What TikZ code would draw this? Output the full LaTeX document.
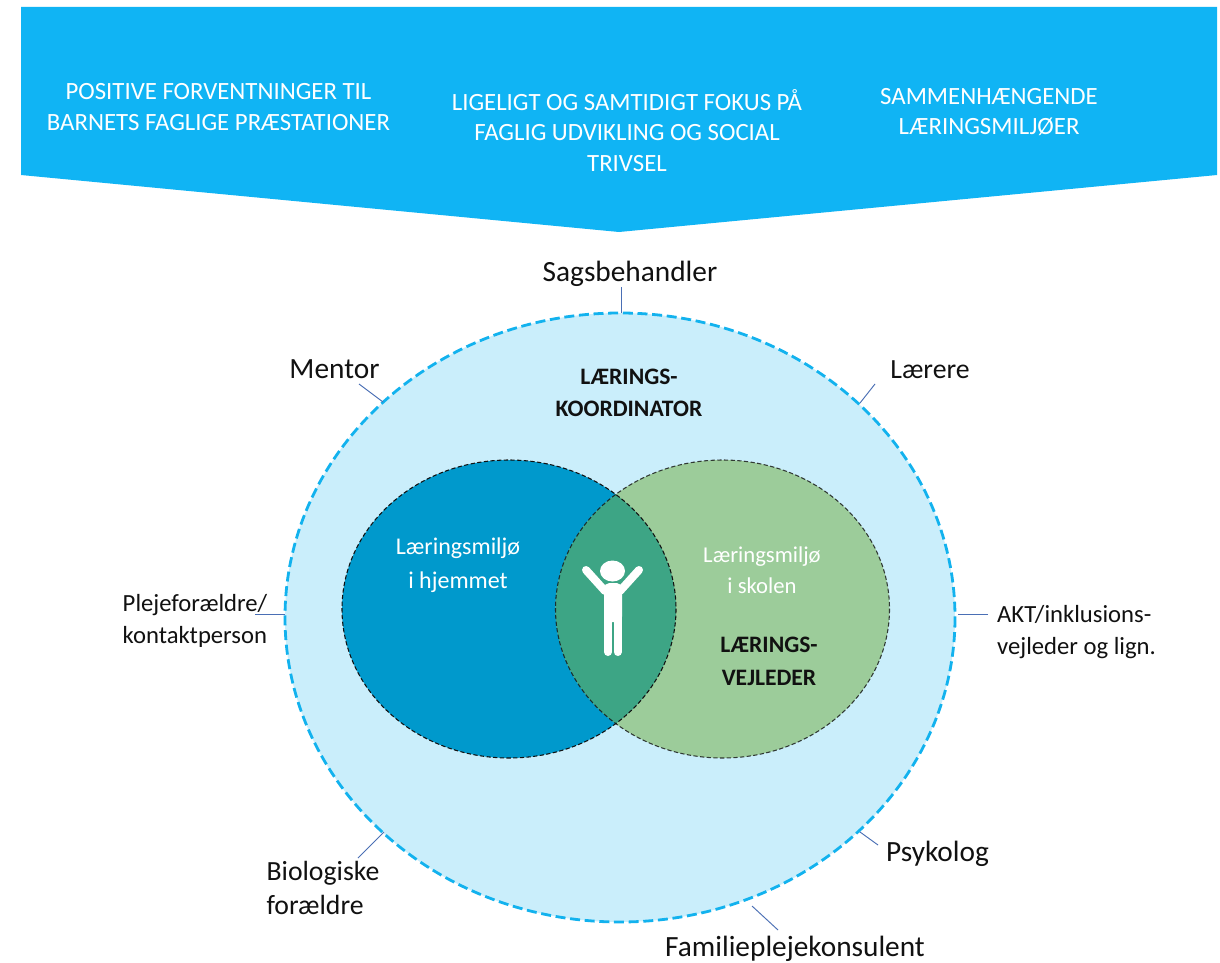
\documentclass[tikz,border=0pt]{standalone}
\usepackage{fontspec}
\setmainfont{Carlito}
\usetikzlibrary{calc}
\definecolor{banner}{HTML}{10B4F4}
\definecolor{outerc}{HTML}{CAEEFB}
\definecolor{homec}{HTML}{0099CC}
\definecolor{schoolc}{HTML}{9CCC9A}
\definecolor{overlapc}{HTML}{3DA585}
\definecolor{dashc}{HTML}{12B2EE}
\definecolor{leadc}{HTML}{4A6FB5}
\definecolor{ink}{HTML}{111111}
\tikzset{
  x=0.75pt,y=-0.75pt,
  bannertext/.style={text=white,align=center,font=\fontsize{18.6}{23}\selectfont,inner sep=0pt},
  role/.style={text=ink,align=left,font=\fontsize{22}{25}\selectfont,inner sep=0pt},
  rolesmall/.style={text=ink,align=left,font=\fontsize{20.8}{25}\selectfont,inner sep=0pt},
  smallrole/.style={text=ink,align=left,font=\fontsize{18.5}{24}\selectfont,inner sep=0pt},
  envtext/.style={text=white,align=center,font=\fontsize{18}{25.5}\selectfont,inner sep=0pt},
  envtextb/.style={text=white,align=center,font=\fontsize{17}{23.5}\selectfont,inner sep=0pt},
  boldtext/.style={text=ink,align=center,font=\fontsize{17.7}{24.5}\selectfont\bfseries,inner sep=0pt},
  lead/.style={draw=leadc,line width=0.7pt},
  innerdash/.style={draw=ink,line width=0.8pt,dash pattern=on 3.2pt off 1.8pt},
  personarm/.style={white,line cap=round,line width=6pt},
  personleg/.style={white,line cap=round,line width=6pt},
}
\begin{document}
\begin{tikzpicture}
\useasboundingbox (0,0) rectangle (1220,963);
\fill[white] (0,0) rectangle (1220,963);
% banner
\fill[banner] (21,7) -- (1217,7) -- (1217,175) -- (619,232) -- (21,175) -- cycle;
\node[bannertext] (b1) at (218.5,107) {POSITIVE FORVENTNINGER TIL\\BARNETS FAGLIGE PRÆSTATIONER};
\node[bannertext] (b2) at (627,130.5) {LIGELIGT OG SAMTIDIGT FOKUS PÅ\\FAGLIG UDVIKLING OG SOCIAL\\TRIVSEL};
\node[bannertext] (b3) at (989,112) {SAMMENHÆNGENDE\\LÆRINGSMILJØER};
% circles
\fill[outerc] (620,617.5) ellipse [x radius=335,y radius=304.5];
\draw[dashc,line width=2.1pt,dash pattern=on 7.5pt off 3.5pt] (620,617.5) ellipse [x radius=335,y radius=304.5];
\fill[homec] (509,609) ellipse [x radius=167,y radius=149];
\fill[schoolc] (722.5,609) ellipse [x radius=167,y radius=149];
\begin{scope}
\clip (509,609) ellipse [x radius=167,y radius=149];
\fill[overlapc] (722.5,609) ellipse [x radius=167,y radius=149];
\end{scope}
\draw[innerdash] (509,609) ellipse [x radius=167,y radius=149];
\draw[innerdash,opacity=.8] (722.5,609) ellipse [x radius=167,y radius=149];
% person
\fill[white] (612.5,571) ellipse [x radius=12.5,y radius=10.5];
\draw[personarm] (586,570) -- (605,591);
\draw[personarm] (639,570) -- (620,591);
\fill[white,rounded corners=4pt] (604,583) rectangle (622,622);
\draw[personleg] (608,612) -- (608,652);
\draw[personleg] (617.7,612) -- (617.7,652);
% texts in circles
\node[boldtext] (koord) at (629,393) {LÆRINGS-\\KOORDINATOR};
\node[envtext] (home) at (458,565.5) {Læringsmiljø\\i hjemmet};
\node[envtextb] (school) at (762,570.5) {Læringsmiljø\\i skolen};
\node[boldtext] (vej) at (769,661.5) {LÆRINGS-\\VEJLEDER};
% roles
\node[role] (sag) at (630,274) {Sagsbehandler};
\node[role] (men) at (334.5,369) {Mentor};
\node[rolesmall] (lae) at (930,370) {Lærere};
\node[smallrole] (ple) at (195,621) {Plejeforældre/\\kontaktperson};
\node[smallrole] (akt) at (1076.5,632) {AKT/inklusions-\\vejleder og lign.};
\node[rolesmall] (bio) at (323,888) {Biologiske\\forældre};
\node[role] (psy) at (937.5,854) {Psykolog};
\node[role] (fam) at (795,949) {Familieplejekonsulent};
% leader ends
\coordinate (sagA) at (621,287); \coordinate (sagB) at (621,313);
\coordinate (menA) at (359,384); \coordinate (menB) at (383,402);
\coordinate (laeA) at (875,384); \coordinate (laeB) at (860,403);
\coordinate (pleA) at (255,614); \coordinate (pleB) at (285,614);
\coordinate (aktA) at (988,614); \coordinate (aktB) at (958,614);
\coordinate (bioA) at (358,858); \coordinate (bioB) at (384,832);
\coordinate (psyA) at (878,845); \coordinate (psyB) at (860,832);
\coordinate (famA) at (778,930); \coordinate (famB) at (752,906);
\draw[lead] (sagA) -- (sagB);
\draw[lead] (menA) -- (menB);
\draw[lead] (laeA) -- (laeB);
\draw[lead] (pleA) -- (pleB);
\draw[lead] (aktA) -- (aktB);
\draw[lead] (bioA) -- (bioB);
\draw[lead] (psyA) -- (psyB);
\draw[lead] (famA) -- (famB);
\end{tikzpicture}
\end{document}
